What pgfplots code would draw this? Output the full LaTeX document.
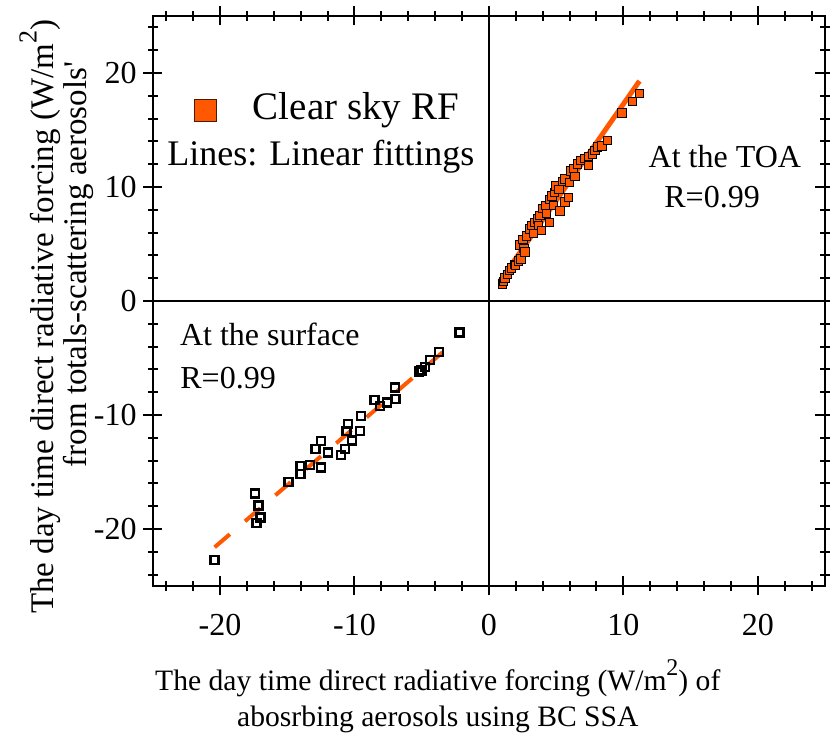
\documentclass[border=0pt]{standalone}
\usepackage{pgfplots}
\pgfplotsset{compat=1.18}
\usepackage{fontspec}
\setmainfont{Liberation Serif}
\definecolor{rf}{RGB}{255,88,0}
\pgfplotstableread{
x y
1.0 1.5
1.1 1.7
1.2 2.0
1.4 2.3
1.55 2.7
1.7 2.9
1.9 3.2
2.0 3.1
2.2 3.5
2.4 3.7
2.3 4.9
2.55 5.4
2.6 4.6
2.7 4.3
2.8 5.7
3.05 6.3
3.2 6.6
3.3 5.9
3.4 6.9
3.6 7.2
3.7 6.6
3.8 7.5
3.9 6.2
4.0 8.1
4.2 8.4
4.3 7.7
4.5 8.9
4.5 6.9
4.7 9.2
4.8 8.4
4.9 9.5
5.0 10.1
5.3 7.9
5.2 9.8
5.5 10.5
5.65 10.7
5.65 8.7
5.9 9.1
6.0 10.4
6.1 11.4
6.3 11.6
6.4 10.9
6.6 12.0
6.8 12.3
7.1 12.5
7.4 12.7
7.4 11.9
7.7 12.9
7.9 13.2
8.1 13.5
8.4 13.6
8.8 14.1
9.9 16.5
10.7 17.5
11.2 18.2
}\toa
\pgfplotstableread{
x y
-2.2 -2.75
-3.7 -4.5
-4.4 -5.2
-4.75 -5.8
-5.0 -6.1
-5.2 -6.2
-7.0 -7.6
-6.95 -8.6
-7.6 -8.9
-8.5 -8.7
-8.1 -9.2
-9.5 -10.1
-9.6 -11.4
-10.5 -10.8
-10.6 -11.4
-10.2 -12.25
-10.7 -13.0
-11.0 -13.5
-12.5 -12.3
-12.9 -13.0
-11.95 -13.3
-12.5 -14.6
-13.3 -14.4
-14.0 -14.45
-14.0 -15.2
-14.9 -15.9
-17.4 -16.9
-17.15 -17.95
-17.0 -19.0
-17.3 -19.5
-20.4 -22.7
}\surf
\begin{document}
\begin{tikzpicture}
\begin{axis}[
  at={(0,0)}, anchor=south west,
  scale only axis, width=336.1pt, height=285pt,
  xmin=-25, xmax=25, ymin=-25, ymax=25,
  clip=false,
  axis line style={line width=1pt},
  xtick={-20,-10,0,10,20}, xticklabels={-20,-10,0,10,20},
  ytick={-20,-10,0,10,20}, yticklabels={-20,-10,0,10,20},
  tick align=inside,
  major tick length=0pt, minor tick length=0pt,
  every tick label/.append style={font=\fontsize{16}{19}\selectfont},
  xticklabel style={yshift=-10.5pt},
  yticklabel style={xshift=-4.6pt},
  legend style={draw=none, fill=none, at={(axis cs:-22.0,16.7)}, anchor=west, inner sep=0pt},
]
\draw[line width=0.8pt] (axis cs:0,-25) -- (axis cs:0,25);
\draw[line width=0.8pt] (axis cs:-25,0) -- (axis cs:25,0);
\pgfplotsinvokeforeach{-20,-10,0,10,20}{
  \draw[line width=1pt] (axis cs:#1,-25) ++(0pt,-4.75pt) -- ++(0pt,9.5pt);
  \draw[line width=1pt] (axis cs:#1,25) ++(0pt,-4.75pt) -- ++(0pt,9.5pt);
  \draw[line width=1pt] (axis cs:-25,#1) ++(-4.75pt,0pt) -- ++(9.5pt,0pt);
  \draw[line width=1pt] (axis cs:25,#1) ++(-4.75pt,0pt) -- ++(9.5pt,0pt);
}
\pgfplotsinvokeforeach{-24,-22,-18,-16,-14,-12,-8,-6,-4,-2,2,4,6,8,12,14,16,18,22,24}{
  \draw[line width=1pt] (axis cs:#1,-25) ++(0pt,-2.5pt) -- ++(0pt,5pt);
  \draw[line width=1pt] (axis cs:#1,25) ++(0pt,-2.5pt) -- ++(0pt,5pt);
  \draw[line width=1pt] (axis cs:-25,#1) ++(-2.5pt,0pt) -- ++(5pt,0pt);
  \draw[line width=1pt] (axis cs:25,#1) ++(-2.5pt,0pt) -- ++(5pt,0pt);
}
\addplot[only marks, mark=square*, mark size=2.1pt,
  mark options={fill=rf, draw=black, line width=0.5pt}, forget plot] table {\toa};
\addplot[only marks, mark=square, mark size=2pt,
  mark options={draw=black, line width=1.2pt}, forget plot] table {\surf};
\addplot[rf, line width=2.5pt, forget plot] coordinates {(0.8,1.7) (11.2,19.3)};
\addplot[rf, line width=2pt, dash pattern=on 10pt off 10pt, forget plot] coordinates {(-20.4,-21.6) (-2.65,-3.7)};
\addlegendimage{legend image code/.code={\draw[fill=rf, draw=black!70!rf, line width=0.6pt] (0pt,-5.5pt) rectangle (11pt,5.5pt);}}
\addlegendentry{}
\node[font=\fontsize{19.5}{22}\selectfont] at (axis cs:-9.9,16.7) {Clear sky RF};
\node[font=\fontsize{18}{21}\selectfont] at (axis cs:-12.5,12.7) {Lines: Linear fittings};
\node[font=\fontsize{16}{19}\selectfont] at (axis cs:17.55,12.7) {At the TOA};
\node[font=\fontsize{16}{19}\selectfont] at (axis cs:16.6,9.1) {R=0.99};
\node[font=\fontsize{16}{19}\selectfont] at (axis cs:-16.3,-2.9) {At the surface};
\node[font=\fontsize{16}{19}\selectfont] at (axis cs:-19.4,-6.8) {R=0.99};
\node[font=\fontsize{16.5}{19}\selectfont, rotate=90, inner sep=0pt] at (axis cs:-33.4,-1.4) {The day time direct radiative forcing (W/m\raisebox{1.1ex}{\fontsize{13}{13}\selectfont 2})};
\node[font=\fontsize{16.5}{19}\selectfont, rotate=90, inner sep=0pt] at (axis cs:-30.5,3.2) {from totals-scattering aerosols\textquotesingle};
\node[font=\fontsize{14.8}{18}\selectfont, align=center, inner sep=0pt] at (axis cs:-3.8,-34.7) {The day time direct radiative forcing (W/m\raisebox{1.1ex}{\fontsize{12}{12}\selectfont 2}) of\\abosrbing aerosols using BC SSA};
\end{axis}
\pgfresetboundingbox
\path[use as bounding box] (-76.4pt,-75.5pt) rectangle (338.6pt,293pt);
\end{tikzpicture}
\end{document}
